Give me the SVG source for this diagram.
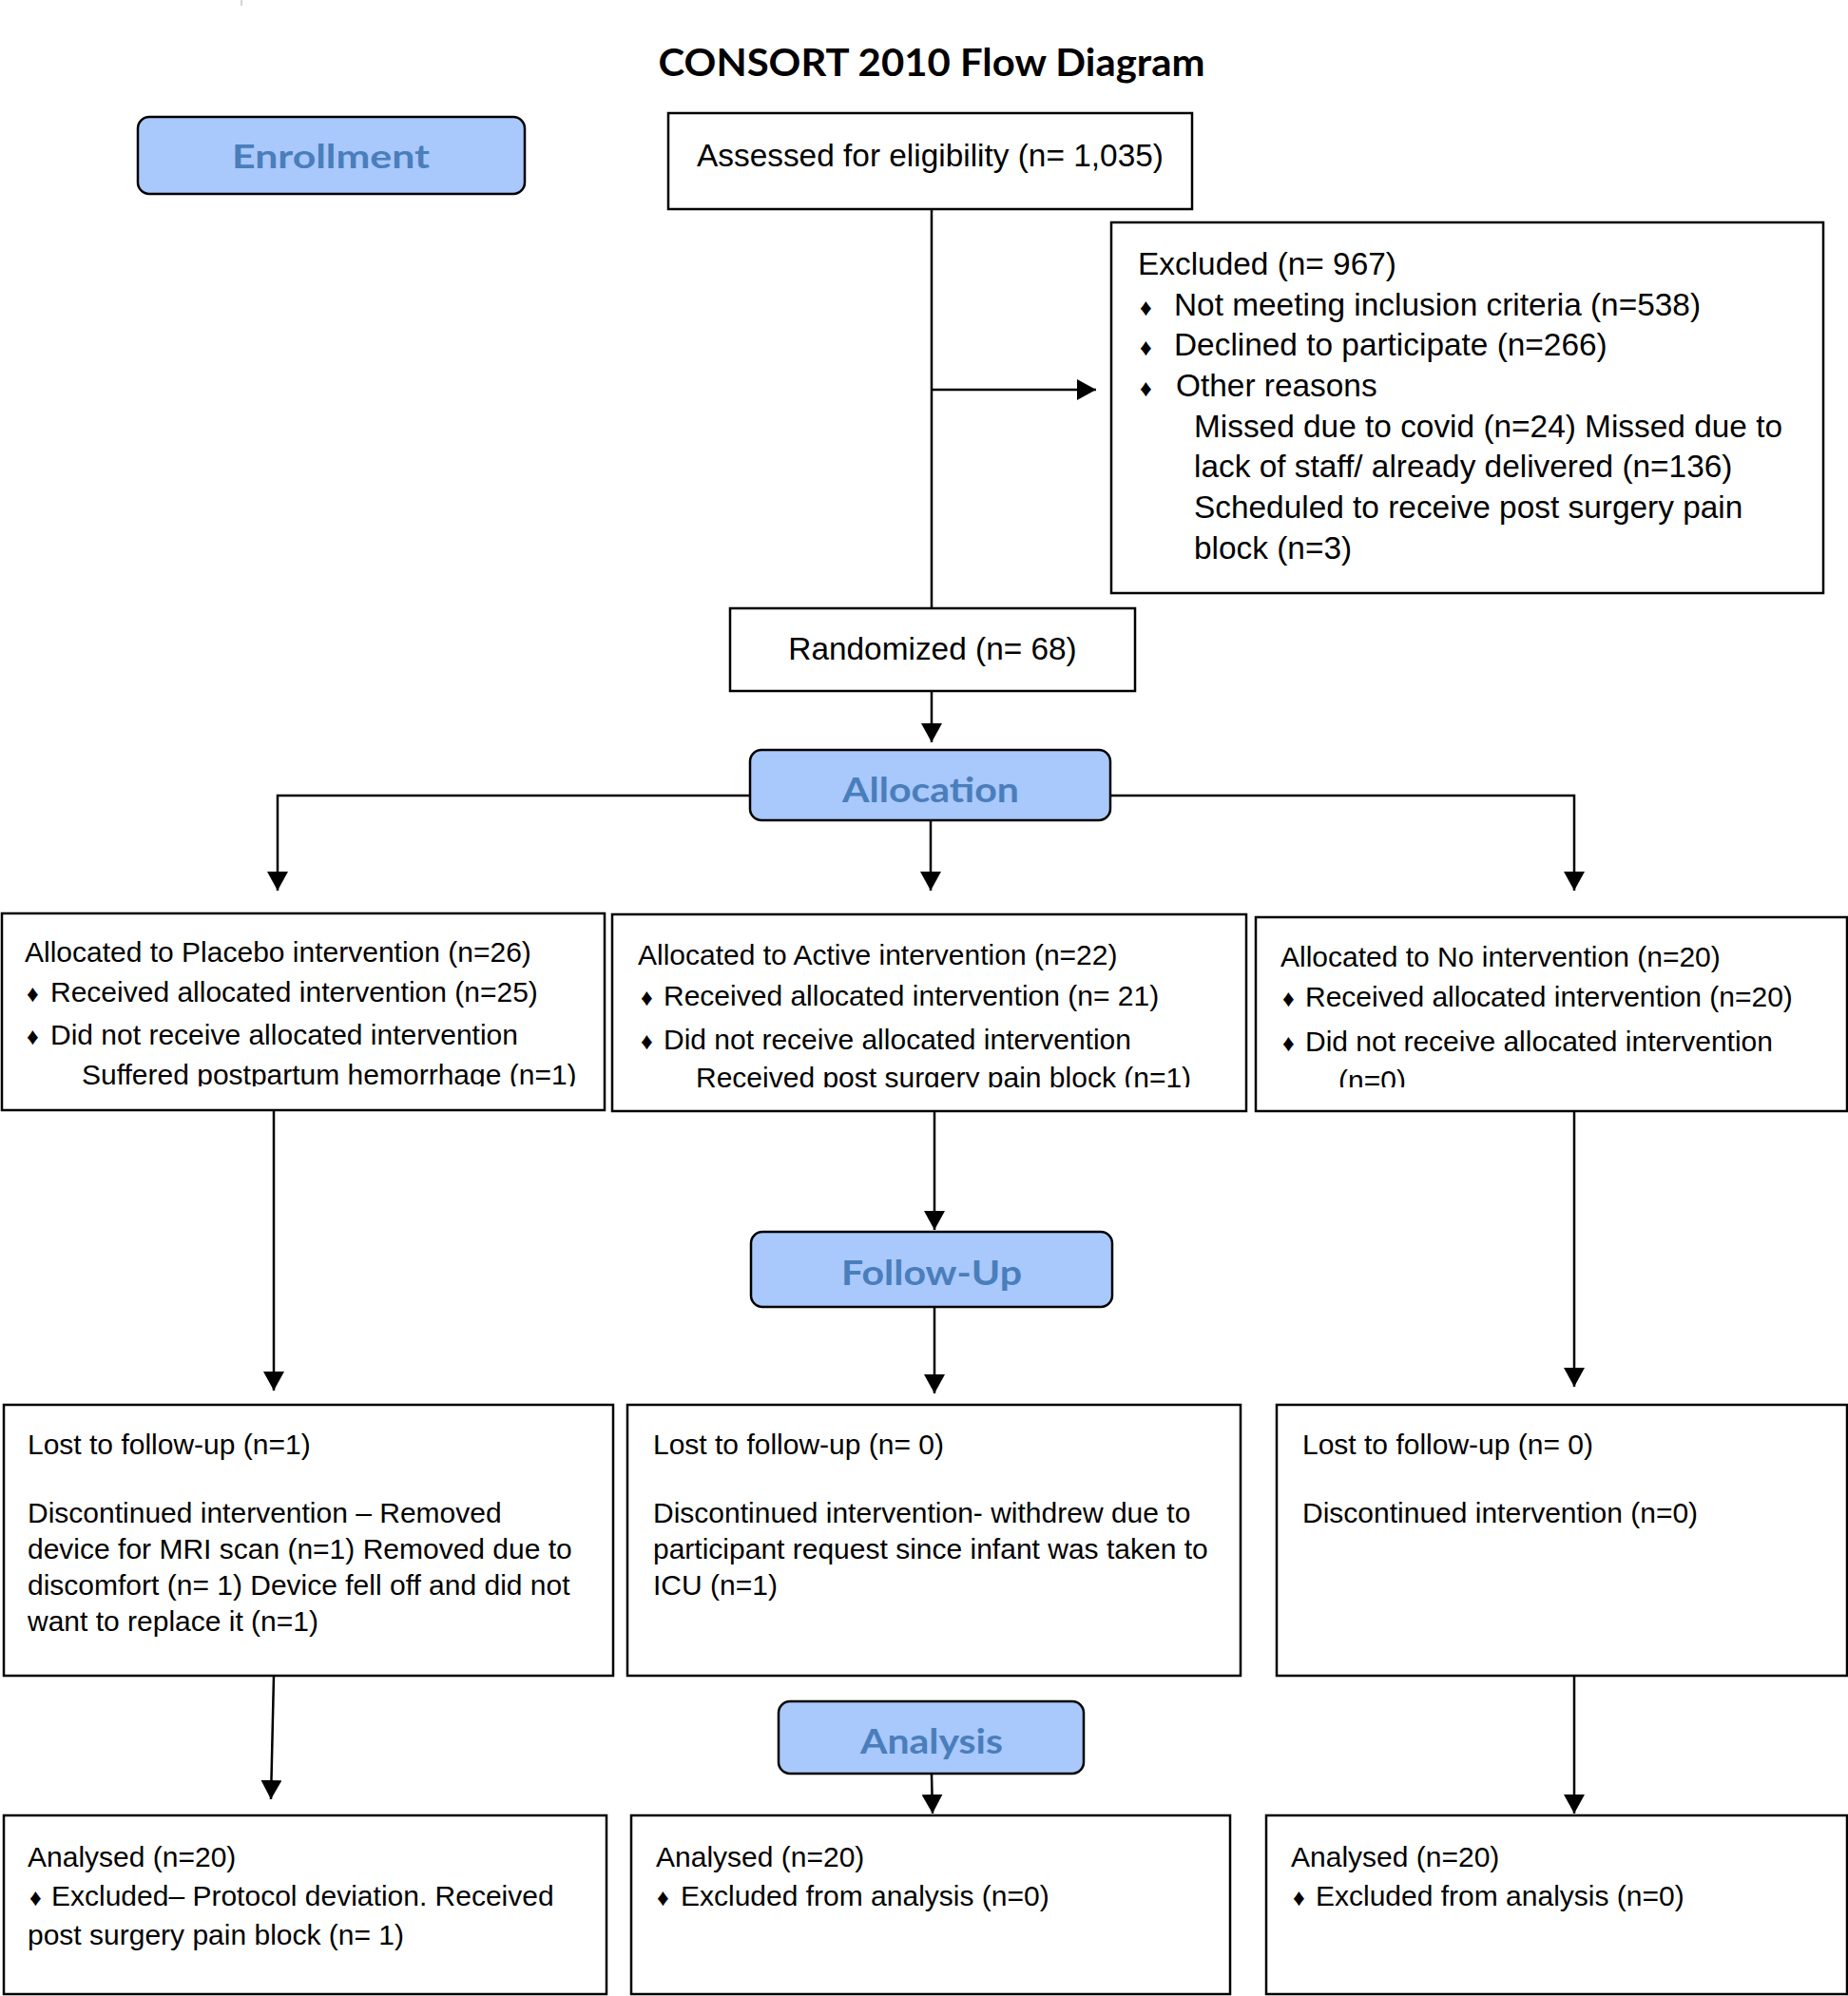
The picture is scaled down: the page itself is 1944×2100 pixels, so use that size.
<svg xmlns="http://www.w3.org/2000/svg" width="1944" height="2100" viewBox="0 0 1944 2100">
<style>
.box{fill:#fff;stroke:#000;stroke-width:2.5}
.phase{fill:#a9c8fb;stroke:#000;stroke-width:2.5}
.pt{font-family:Lato,"Open Sans",sans-serif;font-weight:700;fill:#4a7ebb;text-anchor:middle}
.t{font-family:"Liberation Sans",Arial,sans-serif;font-size:30px;fill:#000}
.tl{font-family:"Liberation Sans",Arial,sans-serif;font-size:33.4px;fill:#000}
.b{font-family:"Liberation Sans","DejaVu Sans",sans-serif;font-size:25px;fill:#000}
.c{fill:none;stroke:#000;stroke-width:2.5}
</style>
<defs>
<marker id="ah" markerUnits="userSpaceOnUse" markerWidth="20" markerHeight="22" refX="20" refY="11" orient="auto">
<path d="M0,0 L20,11 L0,22 z" fill="#000"/>
</marker>
<clipPath id="clipL"><rect x="0" y="960" width="640" height="183"/></clipPath>
<clipPath id="clipM"><rect x="644" y="960" width="668" height="184"/></clipPath>
<clipPath id="clipR"><rect x="1320" y="960" width="624" height="184"/></clipPath>
</defs>
<rect width="1944" height="2100" fill="#fff"/>
<line x1="254" y1="0" x2="254" y2="6" stroke="#aaa" stroke-width="1"/>
<text x="980" y="80" font-family="Lato,'Open Sans',sans-serif" font-weight="700" font-size="40" text-anchor="middle" textLength="575" lengthAdjust="spacingAndGlyphs">CONSORT 2010 Flow Diagram</text>

<g id="connectors">
<line class="c" x1="980" y1="220" x2="980" y2="640"/>
<line class="c" x1="980" y1="410" x2="1153" y2="410" marker-end="url(#ah)"/>
<line class="c" x1="980" y1="727" x2="980" y2="781" marker-end="url(#ah)"/>
<path class="c" d="M789,837 H292 V937" marker-end="url(#ah)"/>
<path class="c" d="M1168,837 H1656 V937" marker-end="url(#ah)"/>
<line class="c" x1="979" y1="863" x2="979" y2="937" marker-end="url(#ah)"/>
<line class="c" x1="288" y1="1168" x2="288" y2="1463" marker-end="url(#ah)"/>
<line class="c" x1="983" y1="1168" x2="983" y2="1294" marker-end="url(#ah)"/>
<line class="c" x1="983" y1="1375" x2="983" y2="1466" marker-end="url(#ah)"/>
<line class="c" x1="1656" y1="1168" x2="1656" y2="1459" marker-end="url(#ah)"/>
<line class="c" x1="288" y1="1763" x2="285" y2="1893" marker-end="url(#ah)"/>
<line class="c" x1="980" y1="1867" x2="981" y2="1908" marker-end="url(#ah)"/>
<line class="c" x1="1656" y1="1763" x2="1656" y2="1908" marker-end="url(#ah)"/>
</g>

<g id="enrollment">
<rect class="phase" x="145" y="123" width="407" height="81" rx="12"/>
<text class="pt" x="348" y="177" font-size="35" textLength="208" lengthAdjust="spacingAndGlyphs">Enrollment</text>
</g>
<g id="assessed">
<rect class="box" x="703" y="119" width="551" height="101"/>
<text class="tl" x="733" y="175">Assessed for eligibility (n= 1,035)</text>
</g>
<g id="excluded">
<rect class="box" x="1169" y="234" width="749" height="390"/>
<text class="tl" x="1197" y="289">Excluded (n= 967)</text>
<text class="b" x="1199" y="332">♦</text><text class="tl" x="1235" y="332">Not meeting inclusion criteria (n=538)</text>
<text class="b" x="1199" y="374">♦</text><text class="tl" x="1235" y="374">Declined to participate (n=266)</text>
<text class="b" x="1199" y="417">♦</text><text class="tl" x="1237" y="417">Other reasons</text>
<text class="tl" x="1256" y="460">Missed due to covid (n=24) Missed due to</text>
<text class="tl" x="1256" y="502">lack of staff/ already delivered (n=136)</text>
<text class="tl" x="1256" y="545">Scheduled to receive post surgery pain</text>
<text class="tl" x="1256" y="588">block (n=3)</text>
</g>
<g id="randomized">
<rect class="box" x="768" y="640" width="426" height="87"/>
<text class="tl" x="981" y="694" text-anchor="middle">Randomized (n= 68)</text>
</g>
<g id="allocation">
<rect class="phase" x="789" y="789" width="379" height="74" rx="12"/>
<text class="pt" x="979" y="844" font-size="36" textLength="186" lengthAdjust="spacingAndGlyphs">Allocation</text>
</g>
<g id="alloc-placebo">
<rect class="box" x="2" y="961" width="634" height="207"/>
<g clip-path="url(#clipL)">
<text class="t" x="26" y="1012">Allocated to Placebo intervention (n=26)</text>
<text class="b" x="28" y="1054" font-size="22">♦</text><text class="t" x="53" y="1054">Received allocated intervention (n=25)</text>
<text class="b" x="28" y="1099" font-size="22">♦</text><text class="t" x="53" y="1099">Did not receive allocated intervention</text>
<text class="t" x="86" y="1141">Suffered postpartum hemorrhage (n=1)</text>
</g>
</g>
<g id="alloc-active">
<rect class="box" x="644" y="962" width="667" height="207"/>
<g clip-path="url(#clipM)">
<text class="t" x="671" y="1015">Allocated to Active intervention (n=22)</text>
<text class="b" x="674" y="1058" font-size="22">♦</text><text class="t" x="698" y="1058">Received allocated intervention (n= 21)</text>
<text class="b" x="674" y="1104" font-size="22">♦</text><text class="t" x="698" y="1104">Did not receive allocated intervention</text>
<text class="t" x="732" y="1144">Received post surgery pain block (n=1)</text>
</g>
</g>
<g id="alloc-none">
<rect class="box" x="1321" y="965" width="622" height="204"/>
<g clip-path="url(#clipR)">
<text class="t" x="1347" y="1017">Allocated to No intervention (n=20)</text>
<text class="b" x="1349" y="1059" font-size="22">♦</text><text class="t" x="1373" y="1059">Received allocated intervention (n=20)</text>
<text class="b" x="1349" y="1106" font-size="22">♦</text><text class="t" x="1373" y="1106">Did not receive allocated intervention</text>
<text class="t" x="1408" y="1147">(n=0)</text>
</g>
</g>
<g id="followup">
<rect class="phase" x="790" y="1296" width="380" height="79" rx="12"/>
<text class="pt" x="980" y="1352" font-size="36" textLength="190" lengthAdjust="spacingAndGlyphs">Follow-Up</text>
</g>
<g id="lost-placebo">
<rect class="box" x="4" y="1478" width="641" height="285"/>
<text class="t" x="29" y="1530">Lost to follow-up (n=1)</text>
<text class="t" x="29" y="1602">Discontinued intervention – Removed</text>
<text class="t" x="29" y="1640">device for MRI scan (n=1) Removed due to</text>
<text class="t" x="29" y="1678">discomfort (n= 1) Device fell off and did not</text>
<text class="t" x="29" y="1716">want to replace it (n=1)</text>
</g>
<g id="lost-active">
<rect class="box" x="660" y="1478" width="645" height="285"/>
<text class="t" x="687" y="1530">Lost to follow-up (n= 0)</text>
<text class="t" x="687" y="1602">Discontinued intervention- withdrew due to</text>
<text class="t" x="687" y="1640">participant request since infant was taken to</text>
<text class="t" x="687" y="1678">ICU (n=1)</text>
</g>
<g id="lost-none">
<rect class="box" x="1343" y="1478" width="600" height="285"/>
<text class="t" x="1370" y="1530">Lost to follow-up (n= 0)</text>
<text class="t" x="1370" y="1602">Discontinued intervention (n=0)</text>
</g>
<g id="analysis">
<rect class="phase" x="819" y="1790" width="321" height="76" rx="12"/>
<text class="pt" x="980" y="1845" font-size="36" textLength="150" lengthAdjust="spacingAndGlyphs">Analysis</text>
</g>
<g id="analysed-placebo">
<rect class="box" x="4" y="1910" width="634" height="188"/>
<text class="t" x="29" y="1964">Analysed (n=20)</text>
<text class="b" x="31" y="2005" font-size="22">♦</text><text class="t" x="54" y="2005">Excluded– Protocol deviation. Received</text>
<text class="t" x="29" y="2046">post surgery pain block (n= 1)</text>
</g>
<g id="analysed-active">
<rect class="box" x="664" y="1910" width="630" height="188"/>
<text class="t" x="690" y="1964">Analysed (n=20)</text>
<text class="b" x="691" y="2005" font-size="22">♦</text><text class="t" x="716" y="2005">Excluded from analysis (n=0)</text>
</g>
<g id="analysed-none">
<rect class="box" x="1332" y="1910" width="611" height="188"/>
<text class="t" x="1358" y="1964">Analysed (n=20)</text>
<text class="b" x="1360" y="2005" font-size="22">♦</text><text class="t" x="1384" y="2005">Excluded from analysis (n=0)</text>
</g>
</svg>
